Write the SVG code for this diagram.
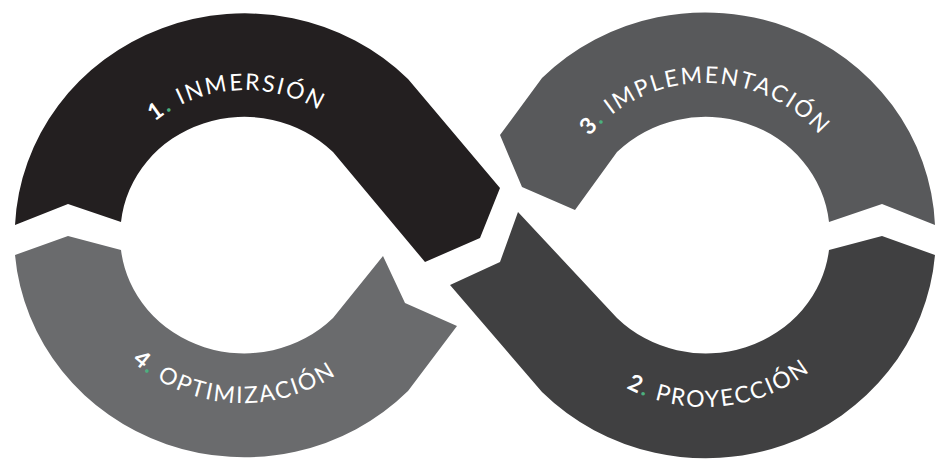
<svg xmlns="http://www.w3.org/2000/svg" width="950" height="472" viewBox="0 0 950 472">
<style>
.lbl{font-family:Lato,"Open Sans",sans-serif;font-size:23px;fill:#fff;letter-spacing:2px}
.num{font-weight:bold}
.dot{fill:#4cb07f;font-weight:bold}
</style>
<defs>
<path id="tL" d="M100,235 A145,145 0 0 1 390,235"/>
<path id="bL" d="M75,235 A168,168 0 0 0 411,235"/>
<path id="tR" d="M553,235 A152,152 0 0 1 857,235"/>
<path id="bR" d="M533,235 A172,172 0 0 0 877,235"/>
</defs>
<rect width="950" height="472" fill="#fff"/>
<g id="node-1">
<path fill="#231f20" d="M15,225 A230,222 0 0 1 408,79 L500,188 L480,238 L425,262 L333,152 A124,117 0 0 0 121,222 L68,204 Z"/>
<text class="lbl"><textPath href="#tL" startOffset="48%" text-anchor="middle"><tspan class="num">1</tspan><tspan class="dot">.</tspan> INMERSIÓN</textPath></text>
</g>
<g id="node-2">
<path fill="#404041" d="M450,285 L500,262 L518,212 L617,318 A124,117 0 0 0 829,250 L882,236 L935,255 A230,222 0 0 1 542,392 Z"/>
<text class="lbl"><textPath href="#bR" startOffset="53%" text-anchor="middle"><tspan class="num">2</tspan><tspan class="dot">.</tspan> PROYECCIÓN</textPath></text>
</g>
<g id="node-3">
<path fill="#58595b" d="M935,225 A230,222 0 0 0 542,78 L500,135 L522,187 L575,210 L617,152 A124,117 0 0 1 829,222 L882,204 Z"/>
<text class="lbl"><textPath href="#tR" startOffset="50%" text-anchor="middle"><tspan class="num">3</tspan><tspan class="dot">.</tspan> IMPLEMENTACIÓN</textPath></text>
</g>
<g id="node-4">
<path fill="#6a6b6d" d="M15,255 L68,236 L121,250 A124,117 0 0 0 333,318 L383,256 L405,303 L457,326 L408,391 A230,222 0 0 1 15,255 Z"/>
<text class="lbl"><textPath href="#bL" startOffset="48%" text-anchor="middle"><tspan class="num">4</tspan><tspan class="dot">.</tspan> OPTIMIZACIÓN</textPath></text>
</g>
<g id="connectors"></g>
</svg>
